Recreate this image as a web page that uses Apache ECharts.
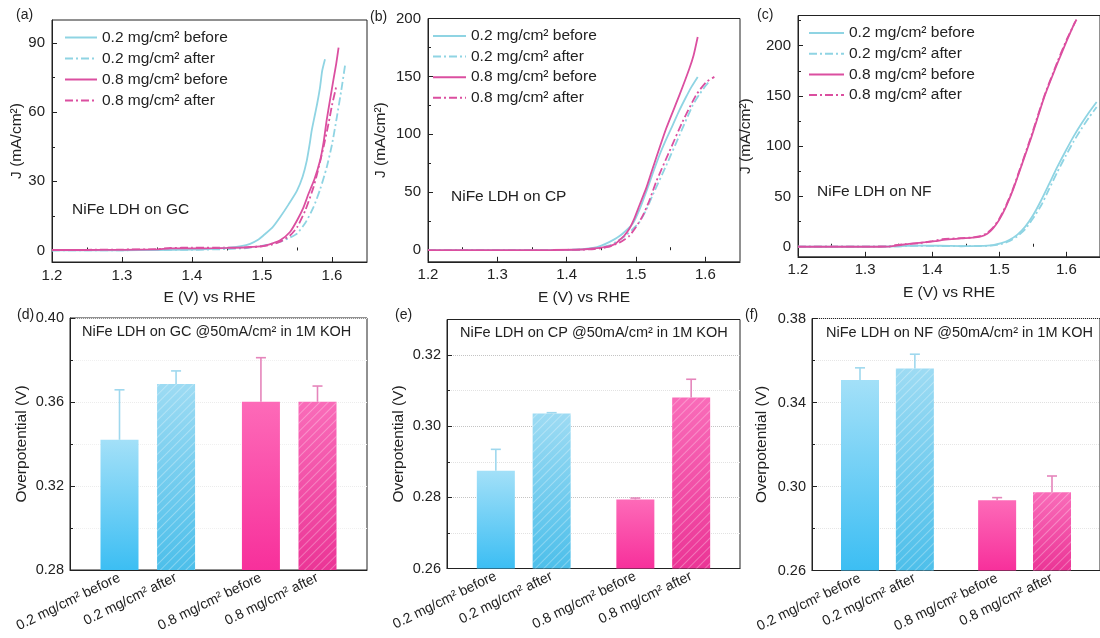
<!DOCTYPE html>
<html><head><meta charset="utf-8">
<script src="https://cdn.jsdelivr.net/npm/echarts@6/dist/echarts.min.js"></script>
<style>html,body{margin:0;padding:0;background:#fff}#c{width:1100px;height:638px}</style>
</head><body><div id="c"></div>
<script>
// ---------------- data ----------------
const seriesNames = ['0.2 mg/cm² before', '0.2 mg/cm² after', '0.8 mg/cm² before', '0.8 mg/cm² after'];

// (a) NiFe LDH on GC  [E (V) vs RHE, J (mA/cm2)]
const gcBlueBefore = [[1.2,0.1],[1.25,0.1],[1.3,0.1],[1.35,0.2],[1.4,0.4],[1.43,0.7],[1.45,1.1],[1.47,1.9],[1.483,2.9],[1.495,4.8],[1.502,6.5],[1.515,10],[1.526,14.5],[1.538,20],[1.55,26],[1.558,32],[1.564,39],[1.568,46],[1.571,52],[1.575,58],[1.579,64],[1.583,71],[1.586,78],[1.59,83]];
const gcBlueAfter = [[1.2,0],[1.25,0.1],[1.3,0.1],[1.35,0.2],[1.4,0.3],[1.45,0.6],[1.48,1.1],[1.5,2],[1.515,3],[1.526,3.8],[1.54,5.6],[1.55,7.3],[1.562,12],[1.5737,18.9],[1.583,26.5],[1.5924,36],[1.6,46],[1.607,58],[1.613,69],[1.619,81]];
const gcPinkBefore = [[1.2,0.2],[1.25,0.2],[1.3,0.3],[1.35,0.5],[1.37,0.9],[1.4,0.9],[1.43,1.0],[1.45,1.1],[1.48,1.4],[1.502,2],[1.515,3.1],[1.526,4.4],[1.54,8],[1.55,13],[1.559,18.5],[1.5666,24.7],[1.575,31],[1.583,39],[1.588,47],[1.5924,56.6],[1.597,65],[1.602,74],[1.606,81],[1.6094,88]];
const gcPinkAfter = [[1.2,0.3],[1.25,0.3],[1.3,0.4],[1.35,0.6],[1.37,1.1],[1.4,1.2],[1.43,1.2],[1.45,1.2],[1.48,1.4],[1.5,1.8],[1.515,2.6],[1.526,3.8],[1.54,6.5],[1.55,10],[1.562,17.5],[1.5737,27.6],[1.581,36],[1.588,45],[1.595,55],[1.6,63],[1.606,71]];

// (b) NiFe LDH on CP
const cpBlueBefore = [[1.2,0],[1.3,0],[1.38,0.2],[1.42,0.8],[1.438,2],[1.45,4],[1.462,7.2],[1.472,10.5],[1.481,14.4],[1.4954,23],[1.505,35],[1.5147,50.3],[1.524,66],[1.5338,82],[1.543,95],[1.553,108],[1.562,120],[1.572,132],[1.58,141],[1.589,149.6]];
const cpBlueAfter = [[1.2,0],[1.3,0],[1.38,0.2],[1.42,0.6],[1.44,1.5],[1.462,4.3],[1.475,8.5],[1.486,13],[1.495,18],[1.505,24.4],[1.515,35],[1.524,47.5],[1.5435,73],[1.5626,99],[1.5817,125],[1.592,135],[1.601,142.4],[1.606,146]];
const cpPinkBefore = [[1.2,0],[1.3,0],[1.38,0.2],[1.42,0.6],[1.438,1.5],[1.45,2.3],[1.462,3.5],[1.47,5.5],[1.476,8.6],[1.483,12.5],[1.4906,18.7],[1.498,28],[1.505,38.8],[1.515,54],[1.524,70.5],[1.5435,105],[1.5626,133.8],[1.577,156.8],[1.583,168],[1.589,184]];
const cpPinkAfter = [[1.2,0],[1.3,0],[1.38,0.1],[1.42,0.4],[1.44,1],[1.46,2.8],[1.476,6.5],[1.484,9.5],[1.4906,12.5],[1.5,20],[1.51,30],[1.52,44],[1.529,59],[1.548,85],[1.567,110.7],[1.5866,133.8],[1.601,145],[1.613,149.6]];

// (c) NiFe LDH on NF
const nfBlueBefore = [[1.2,0],[1.3,0],[1.35,0.5],[1.38,1.2],[1.41,1.0],[1.443,0.7],[1.47,0.9],[1.4906,1.7],[1.503,3.5],[1.5147,6.7],[1.527,12],[1.5386,20],[1.55,31],[1.5626,46.5],[1.5746,63],[1.5866,79.6],[1.5986,95],[1.6105,109.5],[1.622,122],[1.634,134],[1.645,144]];
const nfBlueAfter = [[1.2,0],[1.3,0],[1.35,0.4],[1.38,1.0],[1.41,0.8],[1.443,0.5],[1.47,0.7],[1.4906,1.3],[1.503,2.8],[1.5147,5.5],[1.527,10.5],[1.5386,17.5],[1.55,28],[1.5626,41.5],[1.5746,58],[1.5866,74.6],[1.5986,90],[1.6105,104.5],[1.622,117],[1.634,129],[1.645,139]];
const nfPinkBefore = [[1.2,0],[1.3,0],[1.335,0.2],[1.345,1],[1.355,2],[1.371,3.3],[1.39,4.5],[1.404,5.5],[1.42,7],[1.443,8.3],[1.46,9],[1.4715,10],[1.482,13],[1.4906,18.3],[1.5,27],[1.51,40],[1.52,56],[1.529,73],[1.548,109.5],[1.567,149],[1.5866,182.5],[1.601,205.7],[1.613,224]];
const nfPinkAfter = [[1.2,0.2],[1.3,0.2],[1.335,0.4],[1.345,1.5],[1.36,2.6],[1.38,3.5],[1.4,5.5],[1.415,7.5],[1.443,8.6],[1.46,9.2],[1.4715,10.5],[1.482,13.8],[1.4906,19],[1.5,28],[1.51,41],[1.52,57],[1.529,74],[1.548,111],[1.567,150],[1.5866,184],[1.601,207],[1.615,226]];

// tick values
const eTicks = [1.2, 1.3, 1.4, 1.5, 1.6];
const eMinorTicks = [1.25, 1.35, 1.45, 1.55];
const gcJTicks = [0, 30, 60, 90], gcJMinor = [15, 45, 75];
const cpJTicks = [0, 50, 100, 150, 200], cpJMinor = [25, 75, 125, 175];
const nfJTicks = [0, 50, 100, 150, 200], nfJMinor = [25, 75, 125, 175, 225];

// bar panels
const barCategories = ['0.2 mg/cm² before', '0.2 mg/cm² after', '0.8 mg/cm² before', '0.8 mg/cm² after'];
const barPositions = [1, 2, 3.5, 4.5];
const gcOverpotential = [0.342, 0.3686, 0.3601, 0.3601];
const gcError = [0.0238, 0.0062, 0.021, 0.0075];
const cpOverpotential = [0.2875, 0.3036, 0.2794, 0.3081];
const cpError = [0.006, 0.0002, 0.0004, 0.0051];
const nfOverpotential = [0.3507, 0.3562, 0.2935, 0.2973];
const nfError = [0.0058, 0.0068, 0.0012, 0.0077];
const gcEtaTicks = [0.28, 0.32, 0.36, 0.40], gcEtaMinor = [0.30, 0.34, 0.38];
const cpEtaTicks = [0.26, 0.28, 0.30, 0.32], cpEtaMinor = [0.27, 0.29, 0.31];
const nfEtaTicks = [0.26, 0.30, 0.34, 0.38], nfEtaMinor = [0.28, 0.32, 0.36];

// ---------------- styling ----------------
const FONT = '"Liberation Sans", Arial, Helvetica, sans-serif';
const TXT = '#222';
const BLUE = '#8fd4e3', PINK = '#db4fa0';
const lineColors = [BLUE, BLUE, PINK, PINK];
const DASHDOT = [8, 3, 2, 3];
const lineTypes = ['solid', DASHDOT, 'solid', DASHDOT];
const barTop = ['#a3e0f8', '#9ddbf3', '#fd6ab8', '#f96cb9'];
const barBottom = ['#3cbef3', '#4dbfea', '#f7309b', '#eb3596'];
const errColors = ['#9fd8ee', '#9fd8ee', '#e585bb', '#e585bb'];

const lineGrids = [
  {left: 52, top: 20, width: 315, height: 242},
  {left: 428, top: 18.5, width: 312, height: 243.3},
  {left: 798, top: 15.5, width: 313, height: 241.3}
];
const barGrids = [
  {left: 70, top: 318, width: 297, height: 252},
  {left: 447, top: 319.5, width: 293, height: 249},
  {left: 812, top: 318.5, width: 297, height: 252}
];

const grid = lineGrids.concat(barGrids).map(g => Object.assign({show: true, borderColor: TXT, borderWidth: 1, backgroundColor: 'transparent', containLabel: false}, g));

const xAxis = [], yAxis = [];
function addAxes(list, dim, gridIndex, o) {
  const pos = dim === 'x' ? 'bottom' : 'left';
  const main = {
    type: 'value', gridIndex, position: pos, min: o.min, max: o.max,
    axisLine: {show: true, onZero: false, lineStyle: {color: TXT, width: 1}},
    axisTick: o.noTick ? {show: false} : {show: true, inside: true, length: 5, customValues: o.major, lineStyle: {color: TXT, width: 1}},
    axisLabel: {show: true, customValues: o.major, formatter: o.fmt, fontSize: o.fs || 15, color: TXT, fontFamily: FONT, margin: o.margin, rotate: o.rotate || 0},
    splitLine: o.split ? {show: true, lineStyle: {color: o.splitColor || '#d8d8d8', type: 'dotted', width: 1}} : {show: false},
    name: o.name, nameLocation: 'middle', nameGap: o.nameGap,
    nameTextStyle: {fontSize: 15.5, color: TXT, fontFamily: FONT}
  };
  if (o.interval) main.interval = o.interval;
  if (o.startValue !== undefined) main.startValue = o.startValue;
  list.push(main);
  if (o.minor) {
    const mn = {
      type: 'value', gridIndex, position: pos, min: o.min, max: o.max,
      axisLine: {show: false}, axisLabel: {show: false},
      axisTick: {show: true, inside: true, length: 3, customValues: o.minor, lineStyle: {color: TXT, width: 1}},
      splitLine: o.split ? {show: true, lineStyle: {color: o.minorSplitColor || '#e6e6e6', type: 'dotted', width: 1}} : {show: false}
    };
    if (o.interval) mn.interval = o.interval;
    list.push(mn);
  }
  return list.length - (o.minor ? 2 : 1);
}

const fmt1 = v => v.toFixed(1);
const fmt2 = v => v.toFixed(2);
const fmt0 = v => String(Math.round(v));

// line panels
const lineSpecs = [
  {ymin: -5, ymax: 100, major: gcJTicks, minor: gcJMinor, nameGap: 26, data: [gcBlueBefore, gcBlueAfter, gcPinkBefore, gcPinkAfter]},
  {ymin: -10, ymax: 200, major: cpJTicks, minor: cpJMinor, nameGap: 39, data: [cpBlueBefore, cpBlueAfter, cpPinkBefore, cpPinkAfter]},
  {ymin: -10, ymax: 230, major: nfJTicks, minor: nfJMinor, nameGap: 44, data: [nfBlueBefore, nfBlueAfter, nfPinkBefore, nfPinkAfter]}
];
const series = [];
lineSpecs.forEach((s, k) => {
  const xi = addAxes(xAxis, 'x', k, {min: 1.2, max: 1.65, major: eTicks, minor: eMinorTicks, fmt: fmt1, margin: 6, name: 'E (V) vs RHE', nameGap: 28});
  const yi = addAxes(yAxis, 'y', k, {min: s.ymin, max: s.ymax, major: s.major, minor: s.minor, fmt: fmt0, margin: 7, name: 'J (mA/cm²)', nameGap: s.nameGap});
  s.data.forEach((d, i) => {
    series.push({
      type: 'line', name: seriesNames[i], xAxisIndex: xi, yAxisIndex: yi, data: d,
      symbol: 'none', showSymbol: false, smooth: 0.2, clip: true,
      lineStyle: {color: lineColors[i], width: 1.8, type: lineTypes[i]},
      itemStyle: {color: lineColors[i]}, z: (i % 2 === 0) ? 3 : 2
    });
  });
});

// bar panels
const barSpecs = [
  {ymin: 0.28, ymax: 0.40, major: gcEtaTicks, minor: gcEtaMinor, interval: 0.02, vals: gcOverpotential, errs: gcError, splitColor: '#ececec', minorSplitColor: '#f0f0f0', nameGap: 40},
  {ymin: 0.26, ymax: 0.33, major: cpEtaTicks, minor: cpEtaMinor, interval: 0.01, vals: cpOverpotential, errs: cpError, splitColor: '#c4c4c4', minorSplitColor: '#e2e2e2', nameGap: 40},
  {ymin: 0.26, ymax: 0.38, major: nfEtaTicks, minor: nfEtaMinor, interval: 0.02, vals: nfOverpotential, errs: nfError, splitColor: '#e0e0e0', minorSplitColor: '#e6e6e6', nameGap: 42}
];
const hatch = {symbol: 'rect', symbolSize: 1, color: 'rgba(255,255,255,0.3)', dashArrayX: [1, 0], dashArrayY: [1, 4.5], rotation: -Math.PI / 4};
barSpecs.forEach((s, k) => {
  const g = 3 + k;
  const xi = addAxes(xAxis, 'x', g, {min: 0.125, max: 5.375, major: barPositions, noTick: true, fs: 14, rotate: 26, margin: 7,
    fmt: v => { const i = barPositions.findIndex(p => Math.abs(p - v) < 1e-6); return i >= 0 ? barCategories[i] : ''; }});
  const yi = addAxes(yAxis, 'y', g, {min: s.ymin, max: s.ymax, major: s.major, minor: s.minor, interval: s.interval, startValue: s.ymin,
    fmt: fmt2, fs: 14.5, margin: 6, name: 'Overpotential (V)', nameGap: s.nameGap, split: true, splitColor: s.splitColor, minorSplitColor: s.minorSplitColor});
  series.push({
    type: 'bar', xAxisIndex: xi, yAxisIndex: yi, barWidth: 38, z: 2,
    data: barPositions.map((p, i) => ({
      value: [p, s.vals[i]],
      itemStyle: {
        color: {type: 'linear', x: 0, y: 0, x2: 0, y2: 1, colorStops: [{offset: 0, color: barTop[i]}, {offset: 1, color: barBottom[i]}]},
        decal: (i % 2 === 1) ? hatch : null
      }
    }))
  });
  series.push({
    type: 'custom', xAxisIndex: xi, yAxisIndex: yi, z: 4,
    encode: {x: 0, y: [1, 2]},
    data: barPositions.map((p, i) => [p, s.vals[i], s.vals[i] + s.errs[i], i]),
    renderItem: (params, api) => {
      const x = api.value(0);
      const p0 = api.coord([x, api.value(1)]);
      const p1 = api.coord([x, api.value(2)]);
      const col = errColors[api.value(3)];
      const st = {stroke: col, lineWidth: 1.6};
      return {type: 'group', children: [
        {type: 'line', shape: {x1: p0[0], y1: p0[1], x2: p1[0], y2: p1[1]}, style: st},
        {type: 'line', shape: {x1: p1[0] - 5, y1: p1[1], x2: p1[0] + 5, y2: p1[1]}, style: st}
      ]};
    }
  });
});

// legends
const legendBase = {orient: 'vertical', itemHeight: 14, data: seriesNames, padding: 0, selectedMode: false,
  itemStyle: {opacity: 0, borderWidth: 0},
  textStyle: {fontSize: 15.5, color: TXT, fontFamily: FONT}};
const legend = [
  Object.assign({}, legendBase, {left: 64, top: 29.5, itemWidth: 32, itemGap: 5}),
  Object.assign({}, legendBase, {left: 432, top: 28, itemWidth: 33, itemGap: 4.6}),
  Object.assign({}, legendBase, {left: 808, top: 25, itemWidth: 35, itemGap: 4.7})
];

// titles / annotations
const tStyle = (fs) => ({fontSize: fs, fontWeight: 'normal', color: TXT, fontFamily: FONT});
const title = [
  {text: '(a)', left: 16, top: 8, padding: 0, textStyle: tStyle(14)},
  {text: '(b)', left: 370, top: 10, padding: 0, textStyle: tStyle(14)},
  {text: '(c)', left: 757, top: 8, padding: 0, textStyle: tStyle(14)},
  {text: '(d)', left: 17, top: 308, padding: 0, textStyle: tStyle(14)},
  {text: '(e)', left: 395, top: 308, padding: 0, textStyle: tStyle(14)},
  {text: '(f)', left: 745, top: 308, padding: 0, textStyle: tStyle(14)},
  {text: 'NiFe LDH on GC', left: 72, top: 202, padding: 0, textStyle: tStyle(15.5)},
  {text: 'NiFe LDH on CP', left: 451, top: 189, padding: 0, textStyle: tStyle(15.5)},
  {text: 'NiFe LDH on NF', left: 817, top: 184, padding: 0, textStyle: tStyle(15.5)},
  {text: 'NiFe LDH on GC @50mA/cm² in 1M KOH', left: 82, top: 324, padding: 0, textStyle: tStyle(14.5)},
  {text: 'NiFe LDH on CP @50mA/cm² in 1M KOH', left: 460, top: 325, padding: 0, textStyle: tStyle(14.5)},
  {text: 'NiFe LDH on NF @50mA/cm² in 1M KOH', left: 826, top: 325, padding: 0, textStyle: tStyle(14.5)}
];

const chart = echarts.init(document.getElementById('c'), null, {renderer: 'canvas'});
chart.setOption({
  animation: false,
  backgroundColor: '#fff',
  textStyle: {fontFamily: FONT},
  title, legend, grid, xAxis, yAxis, series
});
</script>
</body></html>
